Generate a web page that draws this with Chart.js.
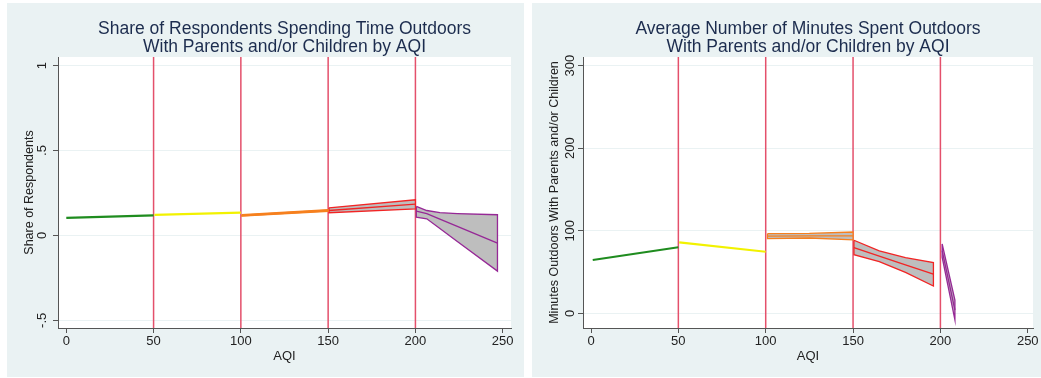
<!DOCTYPE html>
<html>
<head>
<meta charset="utf-8">
<script src="https://cdn.jsdelivr.net/npm/chart.js@4/dist/chart.umd.min.js"></script>
<style>
  body { margin: 0; width: 1041px; height: 378px; background: #fff; position: relative; overflow: hidden; }
  .painel { position: absolute; top: 3px; height: 374px; background: #eaf2f3; }
  #painelShare { left: 7px; width: 517px; }
  #painelMinutos { left: 532px; width: 509px; }
  canvas { display: block; }
</style>
</head>
<body>
<div class="painel" id="painelShare"><canvas id="graficoShare" width="517" height="374"></canvas></div>
<div class="painel" id="painelMinutos"><canvas id="graficoMinutos" width="509" height="374"></canvas></div>
<script>
var tituloShare = ['Share of Respondents Spending Time Outdoors', 'With Parents and/or Children by AQI']
var tituloMinutos = ['Average Number of Minutes Spent Outdoors', 'With Parents and/or Children by AQI']
var eixoYShare = 'Share of Respondents'
var eixoYMinutos = 'Minutes Outdoors With Parents and/or Children'
var eixoX = 'AQI'

var xTicks = [0, 50, 100, 150, 200, 250]
var cortesAqi = [50, 100, 150, 200]
var yTicksShare = [-0.5, 0, 0.5, 1]
var yLabelsShare = ['-.5', '0', '.5', '1']
var yTicksMinutos = [0, 100, 200, 300]
var yLabelsMinutos = ['0', '100', '200', '300']

// share of respondents
var verdeXShare = [0, 50]
var verdeShare = [0.104, 0.118]
var amareloXShare = [50.5, 100]
var amareloShare = [0.121, 0.134]
var laranjaXShare = [100.5, 150]
var laranjaShare = [0.118, 0.147]
var laranjaInfShare = [0.114, 0.142]
var laranjaSupShare = [0.122, 0.152]
var vermelhoXShare = [150.5, 200]
var vermelhoShare = [0.147, 0.185]
var vermelhoInfShare = [0.134, 0.156]
var vermelhoSupShare = [0.163, 0.210]
var roxoXShare = [200.5, 206.5, 214, 224, 247]
var roxoShare = [0.143, 0.128, 0.096, 0.053, -0.045]
var roxoInfShare = [0.108, 0.098, 0.041, -0.035, -0.210]
var roxoSupShare = [0.171, 0.147, 0.134, 0.129, 0.122]

// minutes outdoors
var verdeXMin = [1, 50]
var verdeMin = [64.6, 80]
var amareloXMin = [50.5, 100]
var amareloMin = [86, 74.6]
var laranjaXMin = [101, 125, 150]
var laranjaMin = [93.5, 93.8, 93.8]
var laranjaInfMin = [90.5, 91.2, 89]
var laranjaSupMin = [96.5, 96.8, 98.5]
var vermelhoXMin = [150.5, 165, 180, 196]
var vermelhoMin = [79.5, 69.3, 58.8, 47.5]
var vermelhoInfMin = [71, 62.5, 49.5, 33]
var vermelhoSupMin = [88.5, 75.7, 67.4, 61.5]
var roxoXMin = [201, 208.3]
var roxoMin = [76, 4]
var roxoInfMin = [68, -8]
var roxoSupMin = [84, 16]

var corVerde = '#1f8c1f'
var corAmarelo = '#f2f200'
var corLaranja = '#f6801e'
var corVermelho = '#f22424'
var corRoxo = '#962896'
var corCinza = '#bebebe'
var corCorte = '#e4506b'
var corTitulo = '#1c2c4e'
var fonte = '"Liberation Sans", Arial, Helvetica, sans-serif'

function pontos(xs, ys) {
  return xs.map((x, i) => ({ x: x, y: ys[i] }))
}

function linha(xs, ys, cor, largura) {
  return {
    data: pontos(xs, ys),
    borderColor: cor,
    borderWidth: largura,
    fill: false,
    pointRadius: 0
  }
}

// faixa do intervalo de confianca: contorno fechado, preenchido em cinza
function faixa(xs, inf, sup, cor) {
  var d = pontos(xs, sup).concat(pontos(xs, inf).reverse())
  d.push(d[0])
  return {
    data: d,
    borderColor: cor,
    borderWidth: 1.3,
    backgroundColor: corCinza,
    fill: 'shape',
    pointRadius: 0
  }
}

var pluginFundo = {
  id: 'fundo',
  beforeDraw(chart) {
    var a = chart.chartArea
    var ctx = chart.ctx
    ctx.save()
    ctx.fillStyle = '#ffffff'
    ctx.fillRect(a.left, a.top, a.right - a.left, a.bottom - a.top)
    ctx.restore()
  },
  beforeDatasetsDraw(chart) {
    var a = chart.chartArea
    var ctx = chart.ctx
    var x = chart.scales.x
    ctx.save()
    ctx.strokeStyle = corCorte
    ctx.lineWidth = 1.5
    for (var i = 0; i < cortesAqi.length; i++) {
      var px = x.getPixelForValue(cortesAqi[i])
      ctx.beginPath()
      ctx.moveTo(px, a.top)
      ctx.lineTo(px, a.bottom)
      ctx.stroke()
    }
    ctx.restore()
  },
  afterDraw(chart) {
    var a = chart.chartArea
    var ctx = chart.ctx
    var op = chart.options.plugins.fundo
    ctx.save()
    // titulo
    ctx.fillStyle = corTitulo
    ctx.font = '17.5px ' + fonte
    ctx.textAlign = 'center'
    ctx.textBaseline = 'alphabetic'
    var cx = (a.left + a.right) / 2
    ctx.fillText(op.titulo[0], cx, 30.5)
    ctx.fillText(op.titulo[1], cx, 48.5)
    // rotulos do eixo y, girados
    var y = chart.scales.y
    ctx.fillStyle = '#222'
    ctx.font = '13px ' + fonte
    for (var i = 0; i < op.yTicks.length; i++) {
      var py = y.getPixelForValue(op.yTicks[i])
      ctx.save()
      ctx.translate(a.left - op.recuo, py)
      ctx.rotate(-Math.PI / 2)
      ctx.textAlign = 'center'
      ctx.fillText(op.yLabels[i], 0, 0)
      ctx.restore()
    }
    ctx.restore()
  }
}

function criarGrafico(id, datasets, titulo, tituloY, yTicks, yLabels, yMin, yMax, xMin, xMax, padDireita, recuo) {
  var ctx = document.getElementById(id)
  return new Chart(ctx, {
    type: 'line',
    data: { datasets: datasets },
    plugins: [pluginFundo],
    options: {
      responsive: false,
      animation: false,
      devicePixelRatio: 1,
      layout: { padding: { left: 7, right: padDireita, top: 54, bottom: 3 } },
      plugins: {
        legend: { display: false },
        tooltip: { enabled: false },
        fundo: { titulo: titulo, yTicks: yTicks, yLabels: yLabels, recuo: recuo }
      },
      scales: {
        x: {
          type: 'linear',
          min: xMin,
          max: xMax,
          afterBuildTicks: (s) => { s.ticks = xTicks.map(v => ({ value: v })) },
          afterFit: (s) => { s.height = 46 },
          border: { color: '#555', width: 1 },
          grid: { drawOnChartArea: false, tickLength: 5, tickColor: '#555' },
          ticks: { color: '#222', font: { family: fonte, size: 13 }, padding: 1, maxRotation: 0, autoSkip: false },
          title: { display: true, text: eixoX, color: '#222', font: { family: fonte, size: 13 }, padding: { top: 0, bottom: 10 } }
        },
        y: {
          type: 'linear',
          min: yMin,
          max: yMax,
          afterBuildTicks: (s) => { s.ticks = yTicks.map(v => ({ value: v })) },
          afterFit: (s) => { s.width = 44 },
          border: { color: '#555', width: 1 },
          grid: { color: '#eaf2f3', lineWidth: 1, tickLength: 5, tickColor: '#555' },
          ticks: { display: false },
          title: { display: true, text: tituloY, color: '#222', font: { family: fonte, size: 12.5 }, padding: { top: 8.5, bottom: 0 } }
        }
      }
    }
  })
}

// o Chart.js desenha o primeiro dataset por cima: medias antes das faixas
var dadosShare = [
  linha(verdeXShare, verdeShare, corVerde, 2.2),
  linha(amareloXShare, amareloShare, corAmarelo, 2.2),
  linha(laranjaXShare, laranjaShare, corLaranja, 2),
  linha(vermelhoXShare, vermelhoShare, corVermelho, 1.3),
  linha(roxoXShare, roxoShare, corRoxo, 1.3),
  faixa(laranjaXShare, laranjaInfShare, laranjaSupShare, corLaranja),
  faixa(vermelhoXShare, vermelhoInfShare, vermelhoSupShare, corVermelho),
  faixa(roxoXShare, roxoInfShare, roxoSupShare, corRoxo)
]

var dadosMinutos = [
  linha(verdeXMin, verdeMin, corVerde, 2.2),
  linha(amareloXMin, amareloMin, corAmarelo, 2.2),
  linha(laranjaXMin, laranjaMin, corLaranja, 1.3),
  linha(vermelhoXMin, vermelhoMin, corVermelho, 1.3),
  linha(roxoXMin, roxoMin, corRoxo, 1.3),
  faixa(laranjaXMin, laranjaInfMin, laranjaSupMin, corLaranja),
  faixa(vermelhoXMin, vermelhoInfMin, vermelhoSupMin, corVermelho),
  faixa(roxoXMin, roxoInfMin, roxoSupMin, corRoxo)
]

criarGrafico('graficoShare', dadosShare, tituloShare, eixoYShare, yTicksShare, yLabelsShare, -0.545, 1.051, -4.75, 254.75, 13, 12)
criarGrafico('graficoMinutos', dadosMinutos, tituloMinutos, eixoYMinutos, yTicksMinutos, yLabelsMinutos, -17.8, 310.5, -4.58, 253.0, 8, 9)
</script>
</body>
</html>
